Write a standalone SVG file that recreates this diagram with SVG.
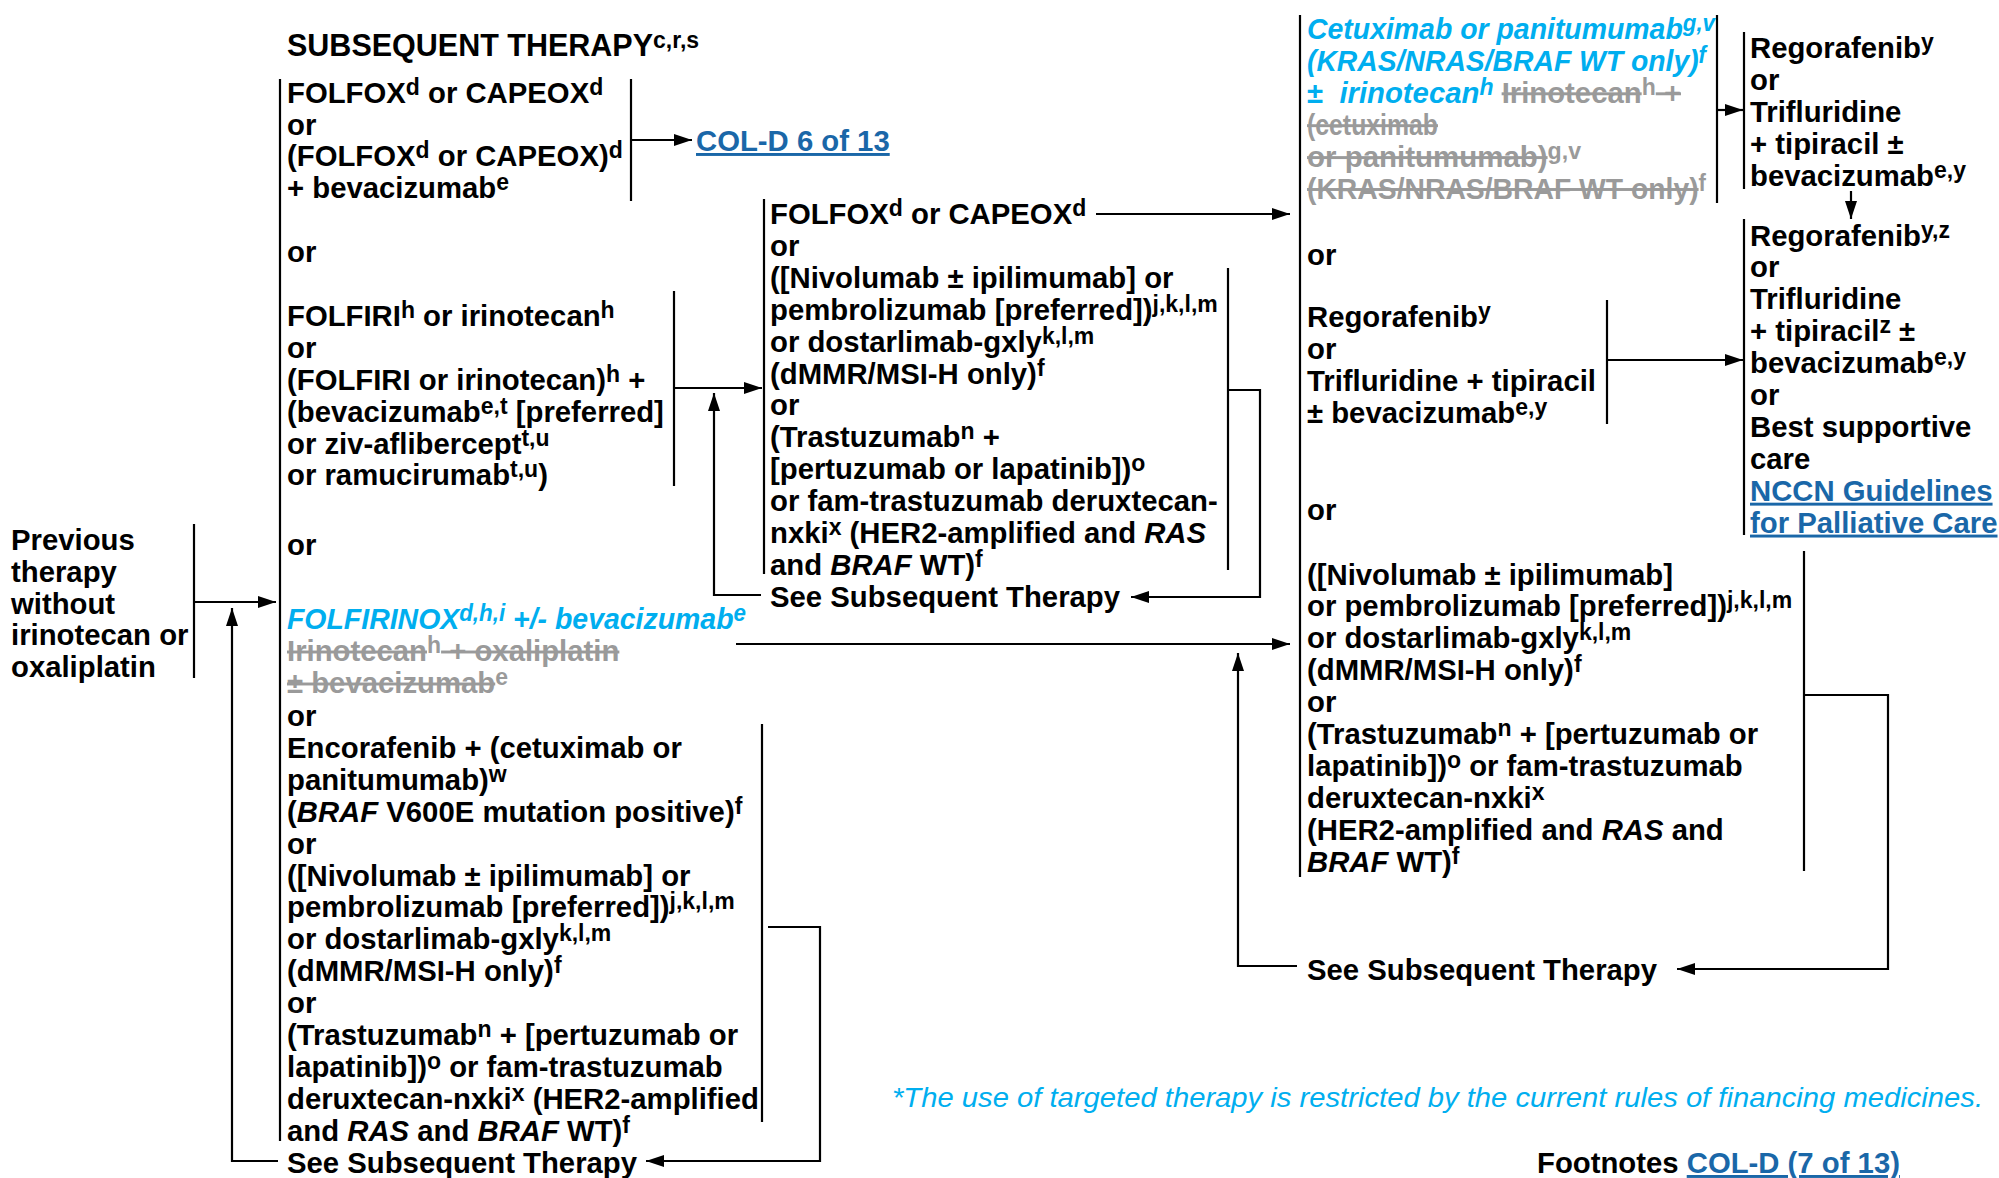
<svg xmlns="http://www.w3.org/2000/svg" width="1999" height="1178" viewBox="0 0 1999 1178">
<defs>
<style>
text{font-family:"Liberation Sans",Arial,Helvetica,sans-serif;font-size:29.3px;font-weight:bold;fill:#000}
.sp{font-size:23px}
.cy{fill:#00aeef;font-style:italic}
.gr{fill:#9a9a9a}
.st{text-decoration:line-through}
.it{font-style:italic}
.lk{fill:#1a67a8;text-decoration:underline}
.ln{fill:none;stroke:#000;stroke-width:2.2}
.fn{font-weight:normal;font-style:italic;fill:#00aeef;font-size:28px}
.ttl{font-size:30.5px}
</style>
<marker id="ah" markerWidth="18" markerHeight="12" refX="18" refY="6" orient="auto" markerUnits="userSpaceOnUse"><path d="M0,0 L18,6 L0,12 z" fill="#000"/></marker>
</defs>
<rect width="1999" height="1178" fill="#fff"/>

<g id="connectors">
<line class="ln" x1="194" y1="524" x2="194" y2="678"/>
<line class="ln" x1="194" y1="602" x2="276" y2="602" marker-end="url(#ah)"/>
<path class="ln" d="M278,1161 H232 V608" marker-end="url(#ah)"/>
<line class="ln" x1="280" y1="79" x2="280" y2="1141"/>
<line class="ln" x1="631" y1="79" x2="631" y2="201"/>
<line class="ln" x1="631" y1="140" x2="692" y2="140" marker-end="url(#ah)"/>
<line class="ln" x1="674" y1="291" x2="674" y2="486"/>
<line class="ln" x1="674" y1="388" x2="762" y2="388" marker-end="url(#ah)"/>
<path class="ln" d="M761,595 H714 V393" marker-end="url(#ah)"/>
<line class="ln" x1="736" y1="644" x2="1290" y2="644" marker-end="url(#ah)"/>
<line class="ln" x1="762" y1="724" x2="762" y2="1122"/>
<path class="ln" d="M768,927 H820 V1161 H646" marker-end="url(#ah)"/>
<line class="ln" x1="764" y1="199" x2="764" y2="574"/>
<line class="ln" x1="1096" y1="214" x2="1290" y2="214" marker-end="url(#ah)"/>
<line class="ln" x1="1228" y1="268" x2="1228" y2="570"/>
<path class="ln" d="M1228,390 H1260 V597 H1131" marker-end="url(#ah)"/>
<line class="ln" x1="1300" y1="15" x2="1300" y2="877"/>
<line class="ln" x1="1717" y1="15" x2="1717" y2="203"/>
<line class="ln" x1="1717" y1="110" x2="1743" y2="110" marker-end="url(#ah)"/>
<line class="ln" x1="1744" y1="32" x2="1744" y2="189"/>
<line class="ln" x1="1851" y1="191" x2="1851" y2="219" marker-end="url(#ah)"/>
<line class="ln" x1="1744" y1="219" x2="1744" y2="535"/>
<line class="ln" x1="1607" y1="300" x2="1607" y2="424"/>
<line class="ln" x1="1607" y1="360" x2="1743" y2="360" marker-end="url(#ah)"/>
<line class="ln" x1="1804" y1="551" x2="1804" y2="871"/>
<path class="ln" d="M1804,695 H1888 V969 H1677" marker-end="url(#ah)"/>
<path class="ln" d="M1297,966 H1238 V653" marker-end="url(#ah)"/>
</g>

<g id="previous">
<text x="11" y="550">Previous</text>
<text x="11" y="582">therapy</text>
<text x="11" y="614">without</text>
<text x="11" y="645">irinotecan or</text>
<text x="11" y="677">oxaliplatin</text>
</g>

<g id="title">
<text x="287" y="56" class="ttl">SUBSEQUENT THERAPY<tspan class="sp" dy="-8">c,r,s</tspan></text>
</g>

<g id="folfox-block">
<text x="287" y="102.6">FOLFOX<tspan class="sp" dy="-8">d</tspan><tspan dy="8"> or CAPEOX</tspan><tspan class="sp" dy="-8">d</tspan></text>
<text x="287" y="134.5">or</text>
<text x="287" y="166.4">(FOLFOX<tspan class="sp" dy="-8">d</tspan><tspan dy="8"> or CAPEOX)</tspan><tspan class="sp" dy="-8">d</tspan></text>
<text x="287" y="198.3">+ bevacizumab<tspan class="sp" dy="-8">e</tspan></text>
</g>

<g id="col-d-6">
<text x="696" y="151" class="lk">COL-D 6 of 13</text>
</g>

<g id="or-1"><text x="287" y="262">or</text></g>

<g id="folfiri-block">
<text x="287" y="325.9">FOLFIRI<tspan class="sp" dy="-8">h</tspan><tspan dy="8"> or irinotecan</tspan><tspan class="sp" dy="-8">h</tspan></text>
<text x="287" y="357.8">or</text>
<text x="287" y="389.7">(FOLFIRI or irinotecan)<tspan class="sp" dy="-8">h</tspan><tspan dy="8"> +</tspan></text>
<text x="287" y="421.6">(bevacizumab<tspan class="sp" dy="-8">e,t</tspan><tspan dy="8"> [preferred]</tspan></text>
<text x="287" y="453.5">or ziv-aflibercept<tspan class="sp" dy="-8">t,u</tspan></text>
<text x="287" y="485.4">or ramucirumab<tspan class="sp" dy="-8">t,u</tspan><tspan dy="8">)</tspan></text>
</g>

<g id="or-2"><text x="287" y="555">or</text></g>

<g id="folfirinox-block">
<text x="287" y="629" class="cy" textLength="459" lengthAdjust="spacingAndGlyphs">FOLFIRINOX<tspan class="sp" dy="-8">d,h,i</tspan><tspan dy="8"> +/- bevacizumab</tspan><tspan class="sp" dy="-8">e</tspan></text>
<text x="287" y="661" class="gr"><tspan class="st">Irinotecan</tspan><tspan class="sp" dy="-8">h</tspan><tspan dy="8" class="st"> + oxaliplatin</tspan></text>
<text x="287" y="693" class="gr"><tspan class="st">± bevacizumab</tspan><tspan class="sp" dy="-8">e</tspan></text>
</g>

<g id="encorafenib-block">
<text x="287" y="726">or</text>
<text x="287" y="757.9">Encorafenib + (cetuximab or</text>
<text x="287" y="789.8">panitumumab)<tspan class="sp" dy="-8">w</tspan></text>
<text x="287" y="821.7">(<tspan class="it">BRAF</tspan> V600E mutation positive)<tspan class="sp" dy="-8">f</tspan></text>
<text x="287" y="853.6">or</text>
<text x="287" y="885.5">([Nivolumab ± ipilimumab] or</text>
<text x="287" y="917.4">pembrolizumab [preferred])<tspan class="sp" dy="-8">j,k,l,m</tspan></text>
<text x="287" y="949.3">or dostarlimab-gxly<tspan class="sp" dy="-8">k,l,m</tspan></text>
<text x="287" y="981.2">(dMMR/MSI-H only)<tspan class="sp" dy="-8">f</tspan></text>
<text x="287" y="1013.1">or</text>
<text x="287" y="1045">(Trastuzumab<tspan class="sp" dy="-8">n</tspan><tspan dy="8"> + [pertuzumab or</tspan></text>
<text x="287" y="1076.9">lapatinib])<tspan class="sp" dy="-8">o</tspan><tspan dy="8"> or fam-trastuzumab</tspan></text>
<text x="287" y="1108.8">deruxtecan-nxki<tspan class="sp" dy="-8">x</tspan><tspan dy="8"> (HER2-amplified</tspan></text>
<text x="287" y="1140.7">and <tspan class="it">RAS</tspan> and <tspan class="it">BRAF</tspan> WT)<tspan class="sp" dy="-8">f</tspan></text>
</g>

<g id="see-subsequent-1"><text x="287" y="1172.6">See Subsequent Therapy</text></g>

<g id="middle-block">
<text x="770" y="224">FOLFOX<tspan class="sp" dy="-8">d</tspan><tspan dy="8"> or CAPEOX</tspan><tspan class="sp" dy="-8">d</tspan></text>
<text x="770" y="255.9">or</text>
<text x="770" y="287.8">([Nivolumab ± ipilimumab] or</text>
<text x="770" y="319.7">pembrolizumab [preferred])<tspan class="sp" dy="-8">j,k,l,m</tspan></text>
<text x="770" y="351.6">or dostarlimab-gxly<tspan class="sp" dy="-8">k,l,m</tspan></text>
<text x="770" y="383.5">(dMMR/MSI-H only)<tspan class="sp" dy="-8">f</tspan></text>
<text x="770" y="415.4">or</text>
<text x="770" y="447.3">(Trastuzumab<tspan class="sp" dy="-8">n</tspan><tspan dy="8"> +</tspan></text>
<text x="770" y="479.2">[pertuzumab or lapatinib])<tspan class="sp" dy="-8">o</tspan></text>
<text x="770" y="511.1">or fam-trastuzumab deruxtecan-</text>
<text x="770" y="543">nxki<tspan class="sp" dy="-8">x</tspan><tspan dy="8"> (HER2-amplified and </tspan><tspan class="it">RAS</tspan></text>
<text x="770" y="574.9">and <tspan class="it">BRAF</tspan> WT)<tspan class="sp" dy="-8">f</tspan></text>
</g>

<g id="see-subsequent-2"><text x="770" y="606.8">See Subsequent Therapy</text></g>

<g id="cetuximab-block">
<text x="1307" y="39" class="cy" textLength="408" lengthAdjust="spacingAndGlyphs">Cetuximab or panitumumab<tspan class="sp" dy="-8">g,v</tspan></text>
<text x="1307" y="70.9" class="cy" textLength="399" lengthAdjust="spacingAndGlyphs">(KRAS/NRAS/BRAF WT only)<tspan class="sp" dy="-8">f</tspan></text>
<text x="1307" y="102.8" textLength="374" lengthAdjust="spacingAndGlyphs"><tspan class="cy" style="font-style:normal">±</tspan><tspan class="cy">&#160; irinotecan</tspan><tspan class="cy sp" dy="-8">h</tspan><tspan dy="8" class="gr"> </tspan><tspan class="gr st">Irinotecan</tspan><tspan class="gr sp" dy="-8">h</tspan><tspan dy="8" class="gr st"> + </tspan></text>
<text x="1307" y="134.7" class="gr" textLength="131" lengthAdjust="spacingAndGlyphs"><tspan class="st">(cetuximab </tspan></text>
<text x="1307" y="166.6" class="gr" textLength="274" lengthAdjust="spacingAndGlyphs"><tspan class="st">or panitumumab)</tspan><tspan class="sp" dy="-8">g,v</tspan></text>
<text x="1307" y="198.5" class="gr" textLength="399" lengthAdjust="spacingAndGlyphs"><tspan class="st">(KRAS/NRAS/BRAF WT only)</tspan><tspan class="sp" dy="-8">f</tspan></text>
</g>

<g id="regorafenib-1">
<text x="1750" y="58">Regorafenib<tspan class="sp" dy="-8">y</tspan></text>
<text x="1750" y="89.9">or</text>
<text x="1750" y="121.8">Trifluridine</text>
<text x="1750" y="153.7">+ tipiracil ±</text>
<text x="1750" y="185.6">bevacizumab<tspan class="sp" dy="-8">e,y</tspan></text>
</g>

<g id="regorafenib-2">
<text x="1750" y="245.5">Regorafenib<tspan class="sp" dy="-8">y,z</tspan></text>
<text x="1750" y="277.4">or</text>
<text x="1750" y="309.3">Trifluridine</text>
<text x="1750" y="341.2">+ tipiracil<tspan class="sp" dy="-8">z</tspan><tspan dy="8"> ±</tspan></text>
<text x="1750" y="373.1">bevacizumab<tspan class="sp" dy="-8">e,y</tspan></text>
<text x="1750" y="405">or</text>
<text x="1750" y="436.9">Best supportive</text>
<text x="1750" y="468.8">care</text>
<text x="1750" y="500.7" class="lk">NCCN Guidelines</text>
<text x="1750" y="532.6" class="lk">for Palliative Care</text>
</g>

<g id="or-3"><text x="1307" y="264.5">or</text></g>

<g id="regorafenib-3">
<text x="1307" y="327">Regorafenib<tspan class="sp" dy="-8">y</tspan></text>
<text x="1307" y="359">or</text>
<text x="1307" y="391">Trifluridine + tipiracil</text>
<text x="1307" y="423">± bevacizumab<tspan class="sp" dy="-8">e,y</tspan></text>
</g>

<g id="or-4"><text x="1307" y="519.5">or</text></g>

<g id="immuno-block">
<text x="1307" y="584.5">([Nivolumab ± ipilimumab]</text>
<text x="1307" y="616.4">or pembrolizumab [preferred])<tspan class="sp" dy="-8">j,k,l,m</tspan></text>
<text x="1307" y="648.3">or dostarlimab-gxly<tspan class="sp" dy="-8">k,l,m</tspan></text>
<text x="1307" y="680.2">(dMMR/MSI-H only)<tspan class="sp" dy="-8">f</tspan></text>
<text x="1307" y="712.1">or</text>
<text x="1307" y="744">(Trastuzumab<tspan class="sp" dy="-8">n</tspan><tspan dy="8"> + [pertuzumab or</tspan></text>
<text x="1307" y="775.9">lapatinib])<tspan class="sp" dy="-8">o</tspan><tspan dy="8"> or fam-trastuzumab</tspan></text>
<text x="1307" y="807.8">deruxtecan-nxki<tspan class="sp" dy="-8">x</tspan></text>
<text x="1307" y="839.7">(HER2-amplified and <tspan class="it">RAS</tspan> and</text>
<text x="1307" y="871.6"><tspan class="it">BRAF</tspan> WT)<tspan class="sp" dy="-8">f</tspan></text>
</g>

<g id="see-subsequent-3"><text x="1307" y="980">See Subsequent Therapy</text></g>

<g id="footnote-note">
<text x="892" y="1107" class="fn" textLength="1091" lengthAdjust="spacingAndGlyphs">*The use of targeted therapy is restricted by the current rules of financing medicines.</text>
</g>

<g id="footnotes">
<text x="1537" y="1173">Footnotes <tspan class="lk">COL-D (7 of 13)</tspan></text>
</g>
</svg>
